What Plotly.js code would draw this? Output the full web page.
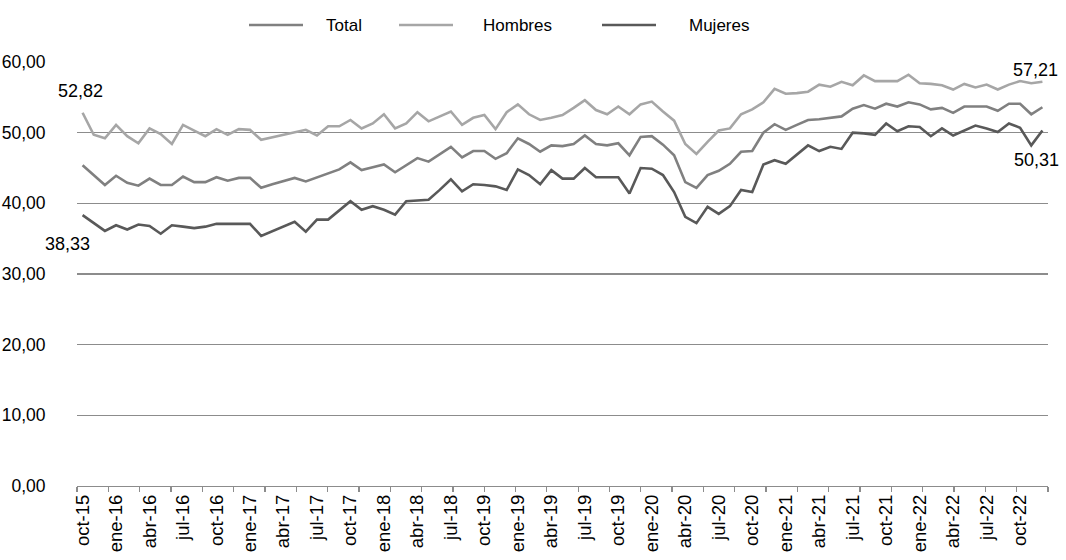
<!DOCTYPE html>
<html>
<head>
<meta charset="utf-8">
<script src="https://cdn.plot.ly/plotly-3.0.1.min.js"></script>
<style>
  html, body { margin: 0; padding: 0; background: #ffffff; }
  #chart { width: 1066px; height: 560px; }
</style>
</head>
<body>
<div id="chart"></div>
<script>
// Monthly series, oct-15 .. dic-22 (87 months)
const seriesNames = ["Total", "Hombres", "Mujeres"];

const total = [
  45.4, 44.0, 42.6, 43.9, 42.9, 42.5, 43.5, 42.6, 42.6, 43.8,
  43.0, 43.0, 43.7, 43.2, 43.6, 43.6, 42.2, 42.7, 43.1, 43.6,
  43.1, 43.7, 44.3, 44.8, 45.8, 44.7, 45.1, 45.5, 44.4, 45.4,
  46.4, 45.9, 47.0, 48.0, 46.5, 47.4, 47.4, 46.3, 47.1, 49.2,
  48.4, 47.3, 48.2, 48.1, 48.4, 49.6, 48.4, 48.2, 48.5, 46.8,
  49.4, 49.5, 48.3, 46.8, 43.0, 42.2, 44.0, 44.6, 45.6, 47.3,
  47.4, 50.0, 51.2, 50.4, 51.1, 51.8, 51.9, 52.1, 52.3, 53.4,
  53.9, 53.4, 54.1, 53.7, 54.3, 54.0, 53.3, 53.5, 52.8, 53.7,
  53.7, 53.7, 53.1, 54.1, 54.1, 52.6, 53.6
];

const hombres = [
  52.82, 49.7, 49.2, 51.1, 49.5, 48.5, 50.6, 49.8, 48.4, 51.1,
  50.3, 49.5, 50.5, 49.7, 50.5, 50.4, 49.0, 49.35, 49.7, 50.05,
  50.4, 49.6, 50.9, 50.9, 51.8, 50.6, 51.3, 52.6, 50.6, 51.3,
  52.9, 51.6, 52.3, 53.0, 51.1, 52.1, 52.5, 50.5, 52.9, 54.0,
  52.6, 51.8, 52.1, 52.5, 53.5, 54.6, 53.2, 52.6, 53.7, 52.6,
  54.0, 54.4, 53.0, 51.7, 48.4, 47.0, 48.7, 50.3, 50.6, 52.6,
  53.3, 54.3, 56.2, 55.5, 55.6, 55.8, 56.8, 56.5, 57.2, 56.7,
  58.1, 57.3, 57.3, 57.3, 58.2, 57.0, 56.9, 56.7, 56.1, 56.9,
  56.4, 56.8, 56.1, 56.8, 57.3, 57.0, 57.21
];

const mujeres = [
  38.33, 37.2, 36.1, 36.9, 36.3, 37.0, 36.8, 35.7, 36.9, 36.7,
  36.5, 36.7, 37.1, 37.1, 37.1, 37.1, 35.4, 36.1, 36.8, 37.4,
  36.0, 37.7, 37.7, 39.0, 40.3, 39.1, 39.6, 39.1, 38.4, 40.3,
  40.4, 40.5, 41.9, 43.4, 41.7, 42.7, 42.6, 42.4, 41.9, 44.8,
  44.0, 42.7, 44.7, 43.5, 43.5, 45.0, 43.7, 43.7, 43.7, 41.4,
  45.0, 44.9, 44.0, 41.6, 38.1, 37.2, 39.5, 38.5, 39.6, 41.9,
  41.6, 45.5, 46.1, 45.6, 46.9, 48.2, 47.4, 48.0, 47.7, 50.0,
  49.9, 49.7, 51.3, 50.2, 50.9, 50.8, 49.5, 50.6, 49.6, 50.3,
  51.0, 50.6, 50.1, 51.3, 50.7, 48.2, 50.31
];

// Tick labels, one every 3 months (as printed in the original, incl. its "oct-19" twice)
const tickLabels = [
  "oct-15", "ene-16", "abr-16", "jul-16", "oct-16", "ene-17", "abr-17", "jul-17",
  "oct-17", "ene-18", "abr-18", "jul-18", "oct-19", "ene-19", "abr-19", "jul-19",
  "oct-19", "ene-20", "abr-20", "jul-20", "oct-20", "ene-21", "abr-21", "jul-21",
  "oct-21", "ene-22", "abr-22", "jul-22", "oct-22"
];

const colors = { Total: "#808080", Hombres: "#A6A6A6", Mujeres: "#595959" };
const FONT = "Liberation Sans, Arial, sans-serif";

const idx = total.map((_, i) => i);
const tickVals = tickLabels.map((_, k) => k * 3);
const nMajor = 31; // tick-mark intervals along the category axis

const dataBySeries = { Total: total, Hombres: hombres, Mujeres: mujeres };
const traces = seriesNames.map(name => ({
  type: "scatter", mode: "lines", name: name,
  x: idx, y: dataBySeries[name],
  line: { color: colors[name], width: 2.6 },
  hoverinfo: "skip", showlegend: false
}));

const fmt = v => v.toFixed(2).replace(".", ",");
const last = idx.length - 1;

const annotations = [
  { x: 0, y: hombres[0], text: fmt(hombres[0]), xshift: -2, yshift: 22 },
  { x: 0, y: mujeres[0], text: fmt(mujeres[0]), xshift: -15, yshift: -29 },
  { x: last, y: hombres[last], text: fmt(hombres[last]), xshift: -7, yshift: 12 },
  { x: last, y: mujeres[last], text: fmt(mujeres[last]), xshift: -6, yshift: -30 }
].map(a => Object.assign({
  xref: "x", yref: "y", showarrow: false, xanchor: "center", yanchor: "middle",
  font: { family: FONT, size: 18, color: "#000000" }
}, a));

// Manual legend (long line samples like the original)
const plotL = 77, plotR = 1066 - 18, plotT = 62, plotB = 560 - 74;
const px = v => (v - plotL) / (plotR - plotL);
const py = v => (plotB - v) / (plotB - plotT);
const legendItems = [
  { name: "Total", x0: 249, x1: 303, tx: 324 },
  { name: "Hombres", x0: 399, x1: 453, tx: 481 },
  { name: "Mujeres", x0: 602, x1: 656, tx: 687 }
];
const shapes = legendItems.map(it => ({
  type: "line", xref: "paper", yref: "paper",
  x0: px(it.x0), x1: px(it.x1), y0: py(25), y1: py(25),
  line: { color: colors[it.name], width: 2.6 }
}));
legendItems.forEach(it => annotations.push({
  xref: "paper", yref: "paper", x: px(it.tx), y: py(26), text: it.name,
  showarrow: false, xanchor: "left", yanchor: "middle",
  font: { family: FONT, size: 17, color: "#000000" }
}));

const layout = {
  width: 1066, height: 560,
  margin: { l: plotL, r: 1066 - plotR, t: plotT, b: 560 - plotB, pad: 0 },
  paper_bgcolor: "#ffffff", plot_bgcolor: "#ffffff",
  separators: ", ",
  font: { family: FONT, size: 17, color: "#000000" },
  showlegend: false,
  xaxis: {
    range: [-0.5, idx.length - 0.5],
    tickmode: "array", tickvals: tickVals, ticktext: tickLabels,
    tickangle: -90, ticks: "", showgrid: false, zeroline: false,
    showline: true, linecolor: "#8c8c8c", linewidth: 1.3,
    tickfont: { family: FONT, size: 18.5, color: "#000000" },
    minor: {
      tickmode: "linear", tick0: -0.5, dtick: idx.length / nMajor,
      ticks: "outside", ticklen: 5, tickcolor: "#8c8c8c", tickwidth: 1.3,
      showgrid: false
    },
    fixedrange: true
  },
  yaxis: {
    range: [0, 60], tickmode: "linear", tick0: 0, dtick: 10,
    tickformat: ".2f", showgrid: true, gridcolor: "#8c8c8c", gridwidth: 1.3,
    zeroline: false, showline: false,
    ticks: "outside", ticklen: 27, tickcolor: "rgba(0,0,0,0)",
    tickfont: { family: FONT, size: 17.5, color: "#000000" },
    fixedrange: true
  },
  annotations: annotations,
  shapes: shapes
};

Plotly.newPlot("chart", traces, layout, { staticPlot: true, displayModeBar: false });
</script>
</body>
</html>
